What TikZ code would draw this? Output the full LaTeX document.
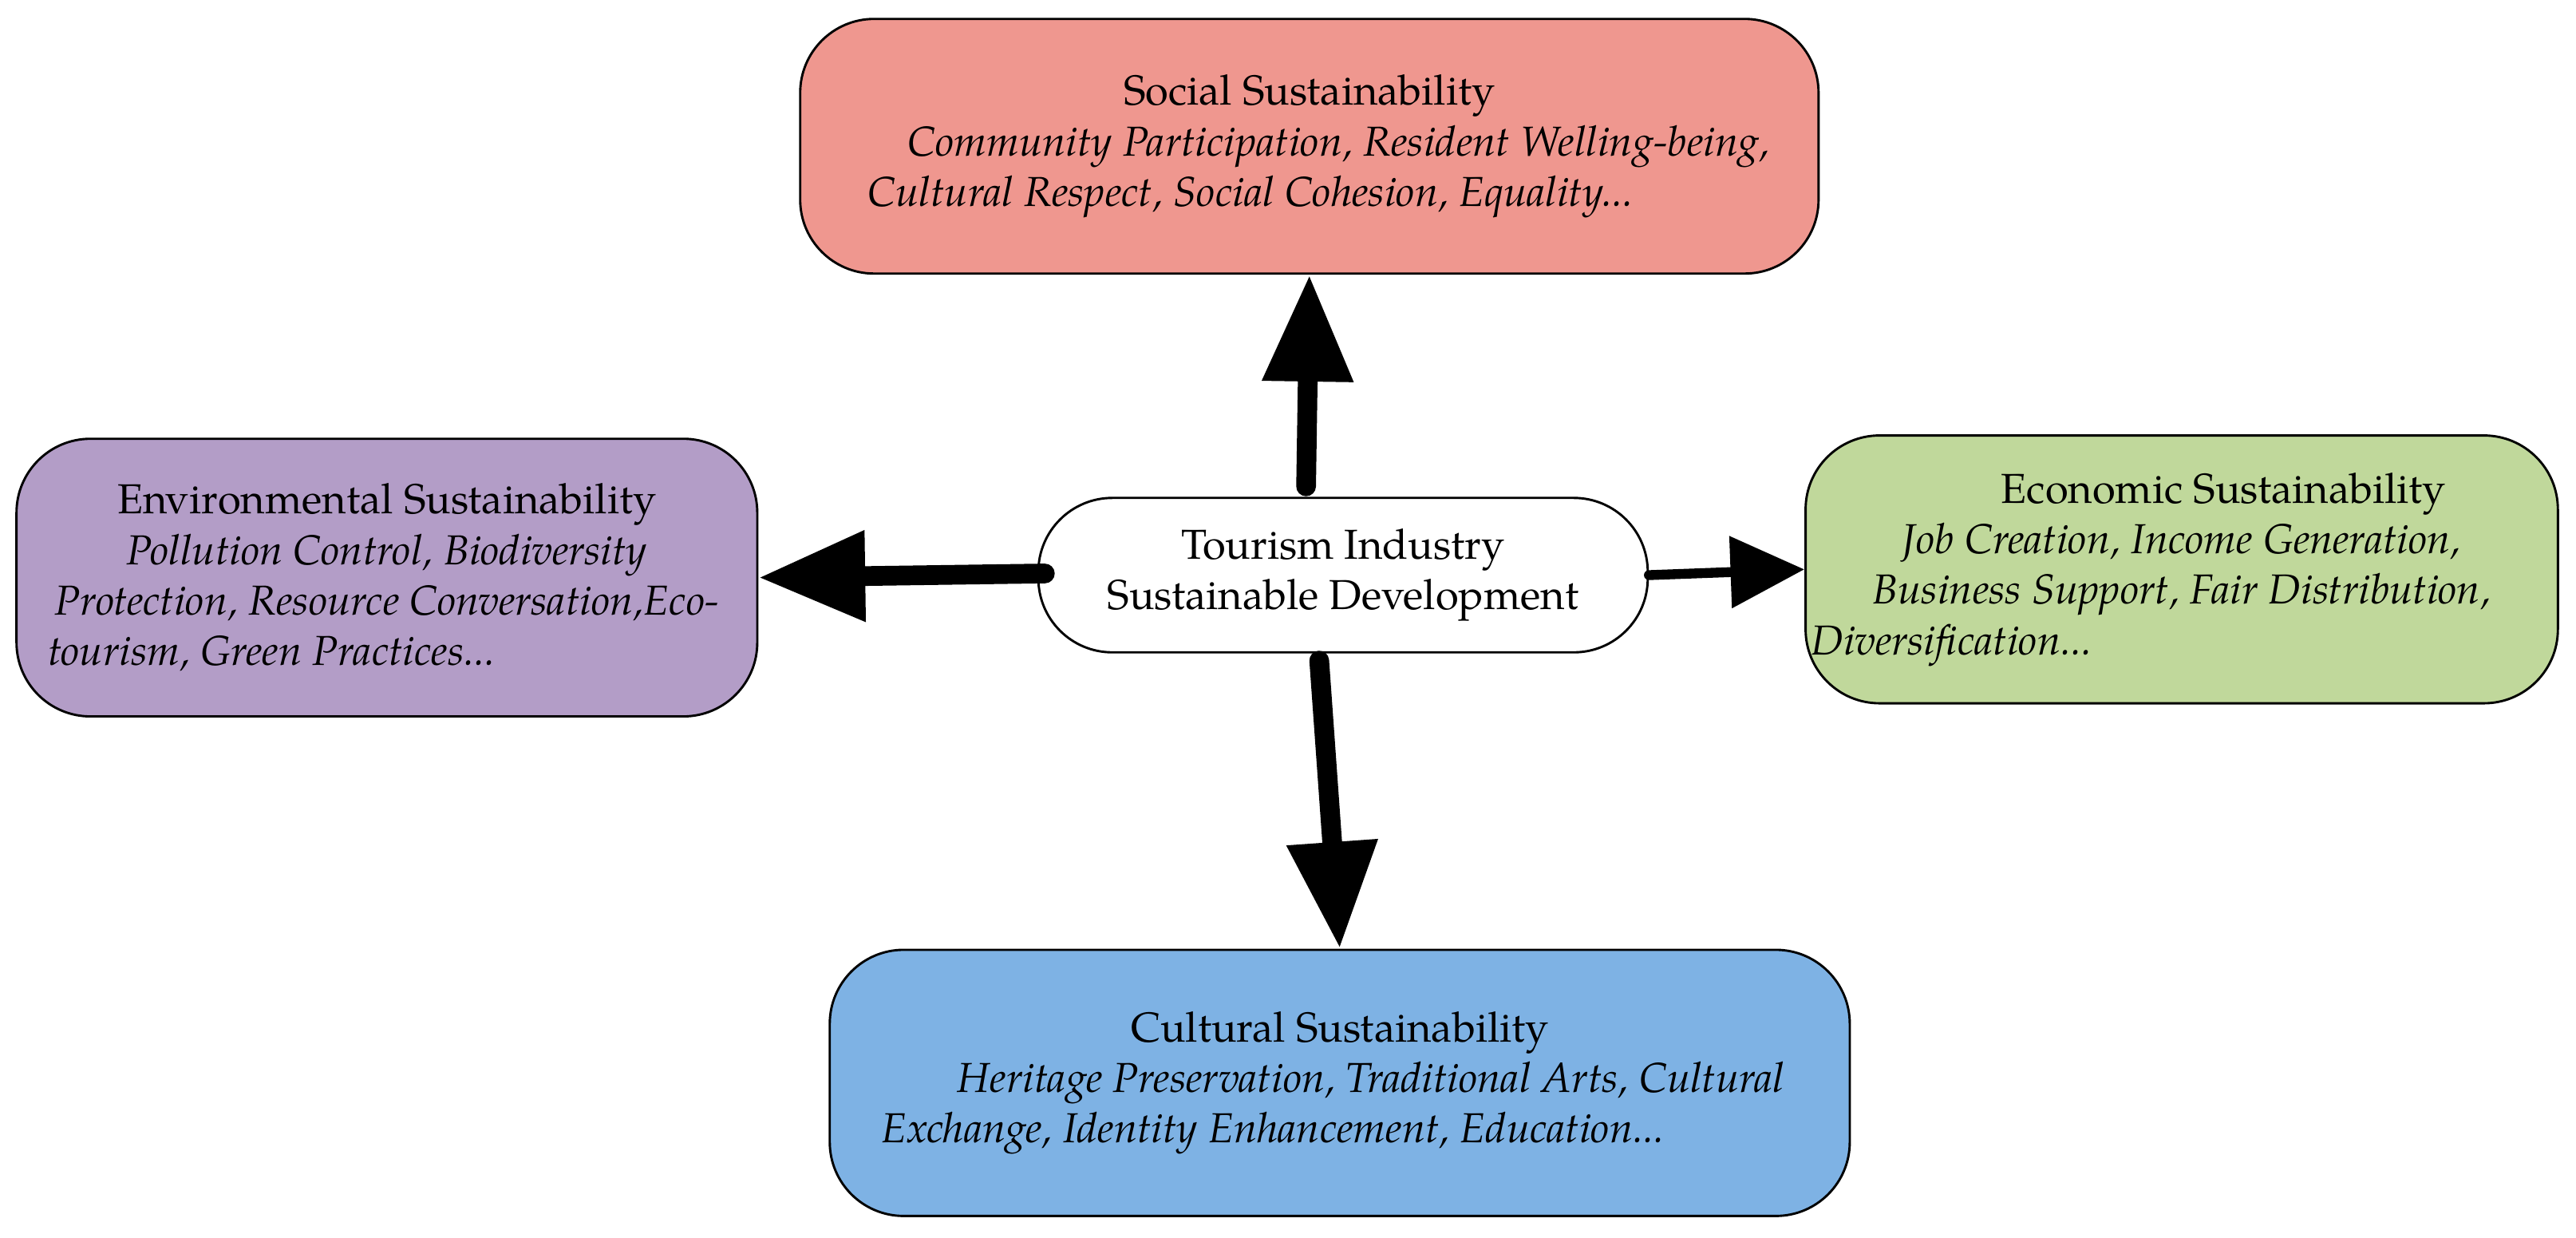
\documentclass[tikz,border=0pt]{standalone}
\usepackage{fontspec}
\setmainfont{TeX Gyre Pagella}
\usetikzlibrary{arrows.meta}
\begin{document}
\begin{tikzpicture}[x=0.02cm,y=-0.02cm,
  box/.style={draw,line width=0.8pt,rounded corners=0.9cm,align=center,inner sep=0pt,font=\fontsize{14.5}{17.5}\selectfont},
  bigarrow/.style={line width=#1,-{Triangle[length=1.3cm,width=1.05cm]}},
]
\useasboundingbox (0,0) rectangle (1568,753);
\node[box,fill={rgb,255:red,239;green,151;blue,143},minimum width=12.4cm,minimum height=3.1cm] (soc) at (797,89)
 {Social Sustainability\\ \hspace*{1.4em}\textit{Community Participation, Resident Welling-being,}\\ \textit{Cultural Respect, Social Cohesion, Equality...}\hspace*{2.8em}};
\node[box,fill={rgb,255:red,179;green,157;blue,199},minimum width=9.02cm,minimum height=3.38cm] (env) at (235.5,351.5)
 {Environmental Sustainability\\ \textit{Pollution Control, Biodiversity}\hspace*{2.5em}\\ \textit{Protection, Resource Conversation,Eco-}\\ \textit{tourism, Green Practices...}\hspace*{5.5em}};
\node[box,fill=white,minimum width=7.42cm,minimum height=1.88cm] (cen) at (817.5,350)
 {Tourism Industry\\ Sustainable Development};
\node[box,fill={rgb,255:red,192;green,216;blue,155},minimum width=9.16cm,minimum height=3.26cm] (eco) at (1328,346.5)
 {\hspace*{2em}Economic Sustainability\\ \textit{Job Creation, Income Generation,}\hspace*{2.5em}\\ \textit{Business Support, Fair Distribution,}\\ \textit{Diversification...}\hspace*{11em}};
\node[box,fill={rgb,255:red,126;green,178;blue,228},minimum width=12.42cm,minimum height=3.24cm] (cul) at (815.5,659)
 {Cultural Sustainability\\ \hspace*{1.5em}\textit{Heritage Preservation, Traditional Arts, Cultural}\\ \textit{Exchange, Identity Enhancement, Education...}\hspace*{3.2em}};
\draw[bigarrow=0.24cm,line cap=round] (795,296) -- (soc.south);
\draw[bigarrow=0.24cm,line cap=round] (636,349) -- (env.east);
\draw[line width=0.12cm,line cap=round,-{Triangle[length=0.9cm,width=0.85cm]}] (cen.east) -- (eco.west);
\draw[bigarrow=0.24cm,line cap=round] (803,402) -- (cul.north);
\end{tikzpicture}
\end{document}
